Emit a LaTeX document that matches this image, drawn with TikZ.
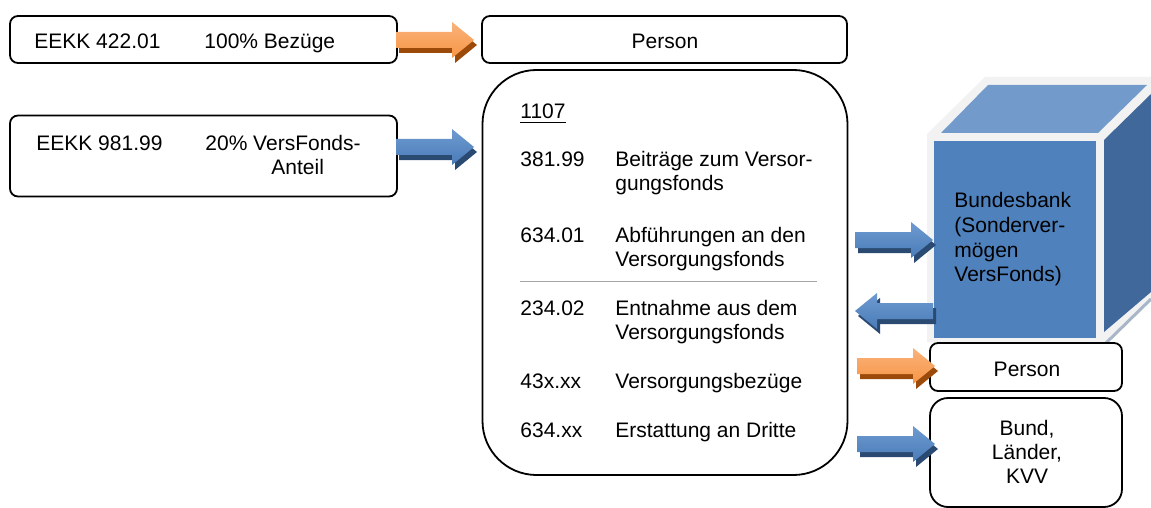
\documentclass[tikz,border=0pt]{standalone}
\usepackage{fontspec}
\setmainfont{Liberation Sans}
\definecolor{orangeM}{HTML}{F79646}
\definecolor{orangeL}{HTML}{FAB27A}
\definecolor{orangeD}{HTML}{9C4A0A}
\definecolor{blueM}{HTML}{4A7CB8}
\definecolor{blueL}{HTML}{6E9AD0}
\definecolor{blueD}{HTML}{2A4A72}
\definecolor{cubeFront}{HTML}{4F81BD}
\definecolor{cubeTop}{HTML}{729BCB}
\definecolor{cubeRight}{HTML}{41689B}
\definecolor{cubeFrame}{HTML}{F2F2F2}
\definecolor{cubeShadow}{HTML}{A8B6C8}
\definecolor{sepgray}{HTML}{A6A6A6}
% block arrow: #1 name of tip coordinate, #2 x, #3 y, #4 direction (1 right, -1 left), #5 colour prefix
\newcommand{\BlkArrow}[5]{%
  \coordinate (#1) at (#2,#3);
  \begin{scope}[shift={(#1)}, xshift=1.5pt, yshift=-2.5pt, xscale=#4]
    \fill[#5D] (-78,-8) -- (-22,-8) -- (-22,-18) -- (0,0) -- (-22,18) -- (-22,8) -- (-78,8) -- cycle;
  \end{scope}
  \begin{scope}[shift={(#1)}, xscale=#4]
    \shade[top color=#5L, bottom color=#5M] (-78,-8) -- (-22,-8) -- (-22,-18) -- (0,0) -- (-22,18) -- (-22,8) -- (-78,8) -- cycle;
  \end{scope}}
\begin{document}
\begin{tikzpicture}[x=0.5pt,y=-0.5pt,
  every node/.style={font=\fontsize{10.5}{12.25}\selectfont, inner sep=0pt},
  rbox/.style={draw=black, line width=0.9pt, rounded corners=4pt},
  lbl/.style={anchor=base west},
  clbl/.style={anchor=base}
]
\useasboundingbox (0,0) rectangle (1151,508);

% left boxes
\node[rbox, minimum width=193.5pt, minimum height=23.5pt] (b1) at (203.5,39.5) {};
\node[lbl] (b1a) at (34,49) {EEKK 422.01};
\node[lbl] (b1b) at (204,49) {100\% Bezüge};

\node[rbox, minimum width=193.5pt, minimum height=40.5pt] (b2) at (203.5,156) {};
\node[lbl] (b2a) at (36,150) {EEKK 981.99};
\node[lbl] (b2b) at (205,150) {20\% VersFonds-};
\node[lbl] (b2c) at (271,175) {Anteil};

% person top
\node[rbox, minimum width=182.5pt, minimum height=23.5pt] (p1) at (664.5,39.5) {};
\node[clbl] (p1t) at (665,49) {Person};

% big box
\node[rbox, rounded corners=27pt, minimum width=182.5pt, minimum height=202.5pt] (big) at (665,272.5) {};
\node[lbl] (t0) at (520,119) {\underline{1107}};
\node[lbl] (n1) at (520,167) {381.99};
\node[lbl] (d1a) at (615,167) {Beiträge zum Versor-};
\node[lbl] (d1b) at (615,191) {gungsfonds};
\node[lbl] (n2) at (520,242) {634.01};
\node[lbl] (d2a) at (615,242) {Abführungen an den};
\node[lbl] (d2b) at (615,266) {Versorgungsfonds};
\draw[sepgray, line width=0.5pt] (520,281) -- (817,281);
\node[lbl] (n3) at (520,315) {234.02};
\node[lbl] (d3a) at (615,315) {Entnahme aus dem};
\node[lbl] (d3b) at (615,339) {Versorgungsfonds};
\node[lbl] (n4) at (520,388) {43x.xx};
\node[lbl] (d4) at (615,388) {Versorgungsbezüge};
\node[lbl] (n5) at (520,437) {634.xx};
\node[lbl] (d5) at (615,437) {Erstattung an Dritte};

% cube
\fill[cubeFrame] (927,342) -- (927,134) -- (985,77) -- (1151,77) -- (1151,298) -- (1107,342) -- cycle;
\draw[cubeShadow, line width=1.5pt] (1106,343) -- (1151,299);
\fill[cubeTop] (941,133) -- (988,85) -- (1147,85) -- (1098,133) -- cycle;
\fill[cubeRight] (1104,140) -- (1151,94) -- (1151,292) -- (1104,332) -- cycle;
\fill[cubeFront] (934,141) rectangle (1096,338);
\node[lbl] (c1) at (954,207) {Bundesbank};
\node[lbl] (c2) at (954,232) {(Sonderver-};
\node[lbl] (c3) at (954,257) {mögen};
\node[lbl] (c4) at (954,281) {VersFonds)};

% right boxes
\node[rbox, minimum width=96pt, minimum height=24pt] (p2) at (1026,367) {};
\node[clbl] (p2t) at (1027,376) {Person};
\node[rbox, rounded corners=9pt, minimum width=96pt, minimum height=54.5pt] (bund) at (1026,452.5) {};
\node[clbl] (bu1) at (1027,435) {Bund,};
\node[clbl] (bu2) at (1027,459) {Länder,};
\node[clbl] (bu3) at (1027,483) {KVV};

% block arrows
\BlkArrow{a1}{474}{40}{1}{orange}
\BlkArrow{a2}{474}{147}{1}{blue}
\BlkArrow{a3}{933}{240}{1}{blue}
\BlkArrow{a4}{855}{311}{-1}{blue}
\BlkArrow{a5}{935}{366}{1}{orange}
\BlkArrow{a6}{935}{444}{1}{blue}
\end{tikzpicture}
\end{document}
